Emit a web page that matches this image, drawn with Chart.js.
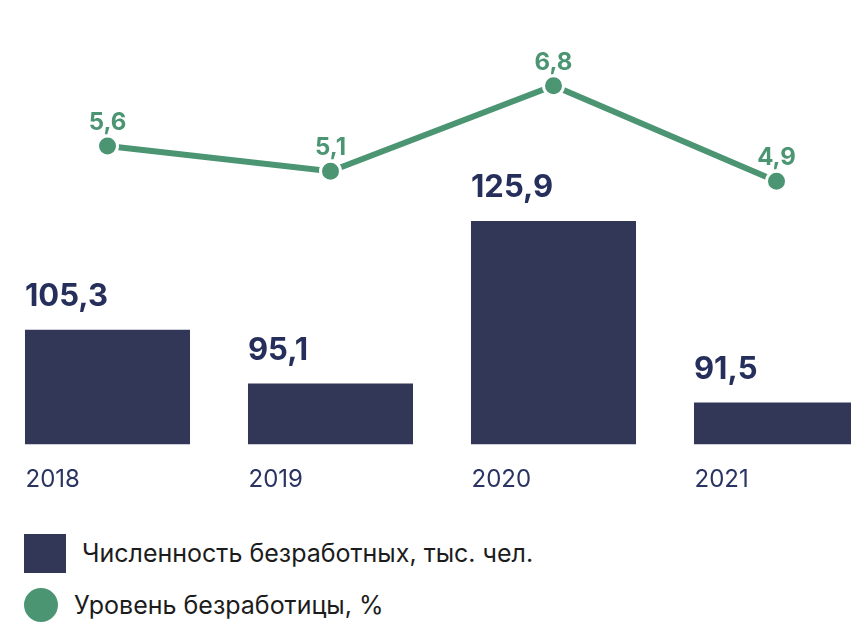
<!DOCTYPE html>
<html lang="ru">
<head>
<meta charset="utf-8">
<script src="https://cdn.jsdelivr.net/npm/chart.js@4"></script>
<style>
  html, body { margin: 0; padding: 0; background: #fff; overflow: hidden; }
  body { width: 851px; height: 622px; position: relative; font-family: Inter, "Noto Sans", sans-serif; }
  #wrap { position: absolute; left: -4px; top: 0; width: 892px; height: 515px; }
  #legend { position: absolute; left: 24px; top: 533px; }
  .item { display: flex; align-items: center; height: 40px; margin-bottom: 12px; font-size: 25px; color: #1c1c1c; }
  .item .sw { width: 42px; height: 39px; margin-right: 16px; }
  .item .dot { width: 34px; height: 34px; border-radius: 50%; margin-right: 16px; }
</style>
</head>
<body>
<div id="wrap"><canvas id="chart"></canvas></div>
<div id="legend"></div>
<script>
// Data
const years = ["2018", "2019", "2020", "2021"];
const unemployed = [105.3, 95.1, 125.9, 91.5];   // тыс. чел.
const rate = [5.6, 5.1, 6.8, 4.9];               // %

const barLabel = "Численность безработных, тыс. чел.";
const lineLabel = "Уровень безработицы, %";

const navy = "#323757";
const navyText = "#262f5c";
const green = "#4b9573";

const fmt = v => v.toFixed(1).replace(".", ",");

// value labels above bars and points
const valueLabels = {
    id: "valueLabels",
    afterDatasetsDraw(chart) {
        const ctx = chart.ctx;
        ctx.save();
        chart.getDatasetMeta(0).data.forEach((bar, i) => {
            ctx.font = "bold 31px Inter";
            ctx.fillStyle = navyText;
            ctx.textAlign = "left";
            ctx.textBaseline = "alphabetic";
            ctx.fillText(fmt(unemployed[i]), bar.x - bar.width / 2, bar.y - 24);
        });
        chart.getDatasetMeta(1).data.forEach((pt, i) => {
            ctx.font = "bold 24px Inter";
            ctx.fillStyle = green;
            ctx.textAlign = "center";
            ctx.textBaseline = "alphabetic";
            ctx.fillText(fmt(rate[i]), pt.x, pt.y - 16);
        });
        ctx.restore();
    }
};

const chart = new Chart(document.getElementById("chart"), {
    type: "bar",
    data: {
        labels: years,
        datasets: [{
            label: barLabel,
            data: unemployed,
            backgroundColor: navy,
            categoryPercentage: 1,
            barPercentage: 0.74,
            yAxisID: "y",
            order: 1
        }, {
            type: "line",
            label: lineLabel,
            data: rate,
            borderColor: green,
            borderWidth: 6,
            pointBackgroundColor: green,
            pointBorderColor: "#fff",
            pointBorderWidth: 3,
            pointRadius: 10,
            yAxisID: "y1",
            order: 0
        }]
    },
    options: {
        responsive: true,
        maintainAspectRatio: false,
        animation: false,
        layout: { autoPadding: false, padding: { top: 40, left: 0, right: 0, bottom: 0 } },
        plugins: {
            legend: { display: false },
            tooltip: { enabled: false }
        },
        scales: {
            x: {
                grid: { display: false, drawTicks: false },
                border: { display: false },
                ticks: {
                    color: "#2a3462",
                    font: { family: "Inter", size: 24 },
                    padding: 21,
                    align: "start",
                    labelOffset: -82
                },
                afterFit(scale) {
                    scale.paddingLeft = 0;
                    scale.paddingRight = 0;
                }
            },
            y: { display: false, min: 83.6, max: 160.2 },
            y1: { display: false, min: -0.33, max: 7.71 }
        }
    },
    plugins: [valueLabels]
});

// legend built from the datasets
const legend = document.getElementById("legend");
chart.data.datasets.forEach((ds, i) => {
    const item = document.createElement("div");
    item.className = "item";
    const mark = document.createElement("span");
    mark.className = i === 0 ? "sw" : "dot";
    mark.style.background = i === 0 ? ds.backgroundColor : ds.borderColor;
    const txt = document.createElement("span");
    txt.textContent = ds.label;
    item.appendChild(mark);
    item.appendChild(txt);
    legend.appendChild(item);
});
</script>
</body>
</html>
